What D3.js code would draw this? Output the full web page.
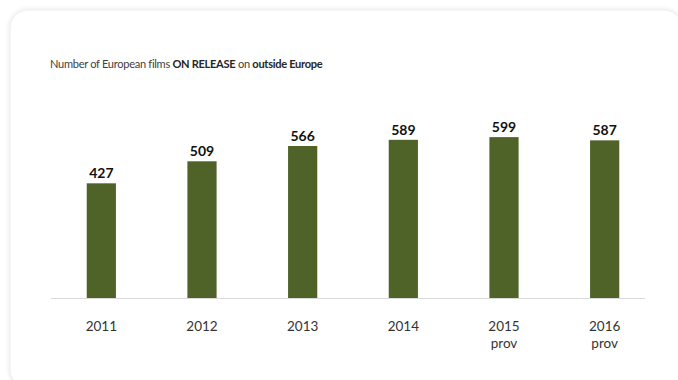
<!DOCTYPE html>
<html lang="en">

<head>
    <script src='https://d3js.org/d3.v7.min.js'></script>
    <style>
        body { margin: 0; background: #fff; }
        text { font-family: Lato, "Open Sans", sans-serif; }
    </style>
</head>

<body>

    <script>

        var years = ["2011", "2012", "2013", "2014", "2015", "2016"];
        var notes = ["", "", "", "", "prov", "prov"];
        var films = [427, 509, 566, 589, 599, 587];

        var width = 678,
            height = 380,
            baseY = 298;

        var svg = d3.select("body").append("svg")
            .attr("width", width)
            .attr("height", height);

        // soft card behind the chart
        var defs = svg.append("defs");
        var f = defs.append("filter").attr("id", "shadow")
            .attr("x", "-5%").attr("y", "-5%").attr("width", "110%").attr("height", "110%");
        f.append("feGaussianBlur").attr("in", "SourceAlpha").attr("stdDeviation", 2.5);
        f.append("feComponentTransfer").append("feFuncA").attr("type", "linear").attr("slope", 0.12);
        var m = f.append("feMerge");
        m.append("feMergeNode");
        m.append("feMergeNode").attr("in", "SourceGraphic");

        svg.append("rect")
            .attr("x", 10).attr("y", 10)
            .attr("width", 672).attr("height", 378)
            .attr("rx", 18)
            .attr("fill", "#fff")
            .attr("stroke", "#ececec")
            .attr("filter", "url(#shadow)");

        var title = svg.append("text")
            .attr("x", 50).attr("y", 68)
            .attr("font-size", 11.3)
            .attr("letter-spacing", -0.3)
            .attr("fill", "#404040");
        title.append("tspan").text("Number of European films ");
        title.append("tspan").attr("font-weight", "bold").attr("fill", "#262626").text("ON RELEASE");
        title.append("tspan").text(" on ");
        title.append("tspan").attr("font-weight", "bold").attr("fill", "#262626").text("outside Europe");
        // nudge the size so the title is as wide as in the original
        var tw = title.node().getComputedTextLength();
        title.attr("font-size", 11.3 * Math.min(1.08, Math.max(0.92, 273 / tw)));

        var x = d3.scaleBand()
            .domain(years)
            .range([51, 655])
            .paddingInner(0.71)
            .paddingOuter(0.355);

        var y = d3.scaleLinear()
            .domain([0, 700])
            .range([baseY, 110]);

        svg.selectAll("rect.bar")
            .data(films)
            .enter().append("rect")
            .attr("class", "bar")
            .attr("x", function (d, i) { return x(years[i]); })
            .attr("y", function (d) { return y(d); })
            .attr("width", x.bandwidth())
            .attr("height", function (d) { return baseY - y(d); })
            .attr("fill", "#4f6228");

        svg.selectAll("text.val")
            .data(films)
            .enter().append("text")
            .attr("class", "val")
            .attr("x", function (d, i) { return x(years[i]) + x.bandwidth() / 2; })
            .attr("y", function (d) { return y(d) - 5; })
            .attr("text-anchor", "middle")
            .attr("font-size", 14)
            .attr("font-weight", "bold")
            .attr("fill", "#111")
            .text(function (d) { return d; });

        svg.append("line")
            .attr("x1", 51).attr("x2", 645)
            .attr("y1", baseY + 0.5).attr("y2", baseY + 0.5)
            .attr("stroke", "#d9d9d9");

        var axis = svg.append("g")
            .attr("transform", "translate(0," + baseY + ")")
            .call(d3.axisBottom(x).tickSize(0).tickPadding(0));
        axis.select(".domain").remove();
        axis.selectAll(".tick text").remove();
        axis.selectAll(".tick").each(function (d, i) {
            var t = d3.select(this).append("text")
                .attr("text-anchor", "middle")
                .attr("font-size", 13.5)
                .attr("fill", "#333")
                .attr("y", 33);
            t.append("tspan").attr("x", 0).text(d);
            if (notes[i]) t.append("tspan").attr("x", 0).attr("dy", 17).text(notes[i]);
        });

    </script>

</body>

</html>
